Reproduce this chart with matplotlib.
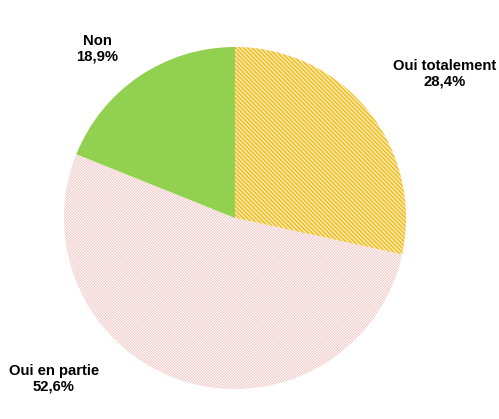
import matplotlib
matplotlib.use("Agg")
import matplotlib.pyplot as plt

labels = ["Oui totalement", "Oui en partie", "Non"]
values = [28.4, 52.6, 18.9]
face_colors = ["#FFF6D8", "#FEF8F8", "#92D050"]
hatch_colors = ["#F0C232", "#EDB8B8", "#92D050"]
hatches = ["\\\\\\\\\\\\\\\\", "xxxxxxxxxxxx", None]

W, H = 499, 419
fig = plt.figure(figsize=(W / 100, H / 100), dpi=100)
ax = fig.add_axes([0, 0, 1, 1])
ax.set_xlim(0, W)
ax.set_ylim(0, H)
ax.axis("off")

cx, cy, r = 235, H - 218, 171
wedges, _ = ax.pie(values, center=(cx, cy), radius=r, startangle=90,
                   counterclock=False, colors=face_colors,
                   wedgeprops=dict(linewidth=0))
ax.set_xlim(0, W)
ax.set_ylim(0, H)
ax.set_aspect("equal")

hatch_lw = [1.4, 0.25, 0]
for w, hc, h, lw in zip(wedges, hatch_colors, hatches, hatch_lw):
    if h:
        w.set_hatch(h)
        w.set_edgecolor(hc)
        w.set_linewidth(0)
        if hasattr(w, "set_hatch_linewidth"):
            w.set_hatch_linewidth(lw)

font = dict(family=["Liberation Sans", "DejaVu Sans"], fontsize=10.7,
            fontweight="bold", ha="center", va="center", color="black",
            linespacing=1.1)
label_pos = [(445, 74), (54, 379), (97, 49)]
for lab, v, (px, py) in zip(labels, values, label_pos):
    txt = f"{lab}\n{v:.1f}%".replace(".", ",")
    ax.text(px, H - py, txt, **font)

fig.savefig("out.png", dpi=100)
